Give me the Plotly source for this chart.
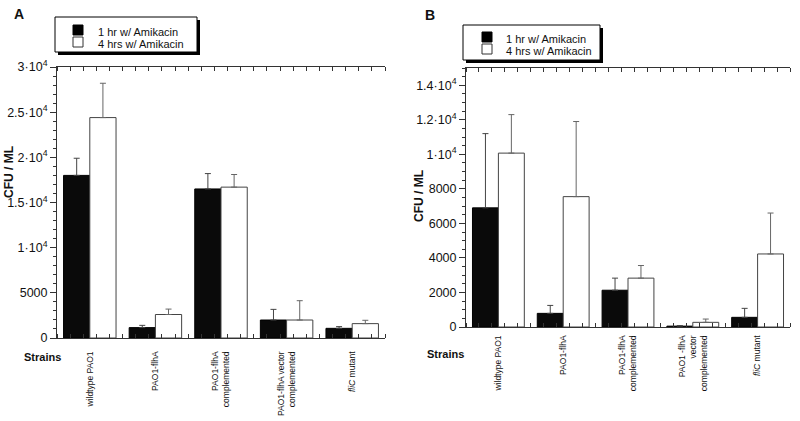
import plotly.graph_objects as go

# ---------------- data ----------------
strains_a = ["wildtype PAO1", "PAO1-flhA", "PAO1-flhA<br>complemented",
             "PAO1-flhA vector<br>complemented", "<i>fliC</i> mutant"]
a_1hr = [18000, 1150, 16500, 1990, 1070]
a_1hr_err_top = [19900, 1400, 18200, 3170, 1260]
a_4hr = [24400, 2600, 16700, 1990, 1590]
a_4hr_err_top = [28200, 3200, 18100, 4130, 1960]

strains_b = ["wildtype PAO1", "PAO1-flhA", "PAO1-flhA<br>complemented",
             "PAO1 -flhA<br>vector<br>complemented", "<i>fliC</i> mutant"]
b_1hr = [6900, 790, 2130, 50, 560]
b_1hr_err_top = [11200, 1250, 2830, 80, 1080]
b_4hr = [10070, 7550, 2830, 270, 4230]
b_4hr_err_top = [12300, 11900, 3560, 460, 6600]

a_tickvals = [0, 5000, 10000, 15000, 20000, 25000, 30000]
a_ticktext = ["0", "5000", "1·10<sup>4</sup>", "1.5·10<sup>4</sup>", "2·10<sup>4</sup>",
              "2.5·10<sup>4</sup>", "3·10<sup>4</sup>"]
b_tickvals = [0, 2000, 4000, 6000, 8000, 10000, 12000, 14000]
b_ticktext = ["0", "2000", "4000", "6000", "8000", "1·10<sup>4</sup>",
              "1.2·10<sup>4</sup>", "1.4·10<sup>4</sup>"]
series_names = ["1 hr w/ Amikacin", "4 hrs w/ Amikacin"]

# ---------------- figure ----------------
W, H = 800, 421
FONT = "Liberation Sans, Arial, Helvetica, sans-serif"
LINE = "#333333"


def px(x):
    return x / W


def py(y):
    return 1 - y / H


fig = go.Figure()
positions = list(range(5))


def add_panel(xa, ya, vals1, top1, vals4, top4):
    fig.add_trace(go.Bar(
        x=positions, y=vals1, xaxis=xa, yaxis=ya, name=series_names[0],
        marker=dict(color="#0a0a0a", line=dict(color="#000000", width=1)),
        error_y=dict(type="data", symmetric=False,
                     array=[t - v for t, v in zip(top1, vals1)],
                     arrayminus=[0] * len(vals1),
                     color="#444444", thickness=1, width=3),
        showlegend=False))
    fig.add_trace(go.Bar(
        x=positions, y=vals4, xaxis=xa, yaxis=ya, name=series_names[1],
        marker=dict(color="#ffffff", line=dict(color="#444444", width=1)),
        error_y=dict(type="data", symmetric=False,
                     array=[t - v for t, v in zip(top4, vals4)],
                     arrayminus=[0] * len(vals4),
                     color="#666666", thickness=1, width=3),
        showlegend=False))


add_panel("x", "y", a_1hr, a_1hr_err_top, a_4hr, a_4hr_err_top)
add_panel("x2", "y2", b_1hr, b_1hr_err_top, b_4hr, b_4hr_err_top)

minor_x = [-0.5 + 0.2 * i for i in range(26)]


def xaxis_cfg(domain, anchor, labels, standoff):
    return dict(
        domain=domain, anchor=anchor, range=[-0.5, 4.5], automargin=False,
        tickmode="array", tickvals=positions, ticktext=labels,
        tickangle=-90, ticks="", showgrid=False, zeroline=False,
        showline=True, linecolor=LINE, linewidth=1, mirror="ticks",
        ticklabelstandoff=standoff,
        tickfont=dict(family=FONT, size=8.5, color="#111"),
        minor=dict(tickmode="array", tickvals=minor_x, ticks="inside",
                   ticklen=4, tickcolor=LINE, showgrid=False),
    )


def yaxis_cfg(domain, anchor, rng, tv, tt, minor_dtick):
    return dict(
        domain=domain, anchor=anchor, range=rng, automargin=False,
        tickmode="array", tickvals=tv, ticktext=tt,
        ticks="outside", ticklen=6, tickcolor=LINE,
        showgrid=False, zeroline=False,
        showline=True, linecolor=LINE, linewidth=1,
        tickfont=dict(family=FONT, size=12.5, color="#111"),
        minor=dict(dtick=minor_dtick, tick0=0, ticks="outside", ticklen=3,
                   tickcolor=LINE, showgrid=False),
    )


def yright_cfg(overlay, anchor, rng, tv, minor_dtick):
    return dict(
        overlaying=overlay, anchor=anchor, side="right", range=rng, automargin=False,
        tickmode="array", tickvals=tv, ticks="inside", ticklen=6,
        tickcolor=LINE, showticklabels=False, showgrid=False, zeroline=False,
        showline=True, linecolor=LINE, linewidth=1,
        minor=dict(dtick=minor_dtick, tick0=0, ticks="inside", ticklen=3,
                   tickcolor=LINE, showgrid=False),
    )


fig.update_layout(
    width=W, height=H, autosize=False,
    margin=dict(l=0, r=0, t=0, b=0),
    paper_bgcolor="white", plot_bgcolor="white",
    barmode="group", bargap=0.2, bargroupgap=0,
    font=dict(family=FONT, color="#111"),
    xaxis=xaxis_cfg([px(57), px(385)], "y", strains_a, 9),
    yaxis=yaxis_cfg([py(338), py(67)], "x", [0, 30000], a_tickvals, a_ticktext, 1000),
    yaxis3=yright_cfg("y", "x", [0, 30000], a_tickvals, 1000),
    xaxis2=xaxis_cfg([px(466), px(790)], "y2", strains_b, 4),
    yaxis2=yaxis_cfg([py(327), py(68)], "x2", [0, 15000], b_tickvals, b_ticktext, 500),
    yaxis4=yright_cfg("y2", "x2", [0, 15000], b_tickvals, 500),
)

shapes = []
annotations = []


def legend_box(x0, y0, x1, y1, sq_x, sq_y1, sq_y2, text_x, ty1, ty2):
    # shadow
    shapes.append(dict(type="rect", xref="paper", yref="paper",
                       x0=px(x0 + 3), x1=px(x1 + 3), y0=py(y1 + 3), y1=py(y0 + 3),
                       fillcolor="#000", line=dict(width=0), layer="above"))
    shapes.append(dict(type="rect", xref="paper", yref="paper",
                       x0=px(x0), x1=px(x1), y0=py(y1), y1=py(y0),
                       fillcolor="#fff", line=dict(color="#000", width=1), layer="above"))
    shapes.append(dict(type="rect", xref="paper", yref="paper",
                       x0=px(sq_x), x1=px(sq_x + 10), y0=py(sq_y1 + 10), y1=py(sq_y1),
                       fillcolor="#000", line=dict(color="#000", width=1), layer="above"))
    shapes.append(dict(type="rect", xref="paper", yref="paper",
                       x0=px(sq_x), x1=px(sq_x + 10), y0=py(sq_y2 + 10), y1=py(sq_y2),
                       fillcolor="#fff", line=dict(color="#333", width=1), layer="above"))
    for name, ty in zip(series_names, [ty1, ty2]):
        annotations.append(dict(text=name, xref="paper", yref="paper",
                                x=px(text_x), y=py(ty), xanchor="left", yanchor="middle",
                                showarrow=False, font=dict(family=FONT, size=11, color="#111")))


legend_box(55, 17, 197, 52, 73, 25, 37, 96, 31.5, 43.5)
legend_box(463, 25, 600, 60, 482, 32, 44, 504, 39, 51)

for txt, x, y, size in [("A", 18.5, 14, 14), ("B", 430, 15, 14)]:
    annotations.append(dict(text="<b>%s</b>" % txt, xref="paper", yref="paper",
                            x=px(x), y=py(y), xanchor="center", yanchor="middle",
                            showarrow=False, font=dict(family=FONT, size=size, color="#111")))

for x, y in [(42, 356.5), (445, 354)]:
    annotations.append(dict(text="<b>Strains</b>", xref="paper", yref="paper",
                            x=px(x), y=py(y), xanchor="center", yanchor="middle",
                            showarrow=False, font=dict(family=FONT, size=11, color="#111")))

for x, y in [(9, 172), (419, 196)]:
    annotations.append(dict(text="<b>CFU / ML</b>", xref="paper", yref="paper",
                            x=px(x), y=py(y), xanchor="center", yanchor="middle",
                            textangle=-90, showarrow=False,
                            font=dict(family=FONT, size=12, color="#111")))

fig.update_layout(shapes=shapes, annotations=annotations)
fig.write_html(
    "out.html",
    config={"displayModeBar": False},
    post_script="document.body.style.margin='0';document.body.style.overflow='hidden';",
)
